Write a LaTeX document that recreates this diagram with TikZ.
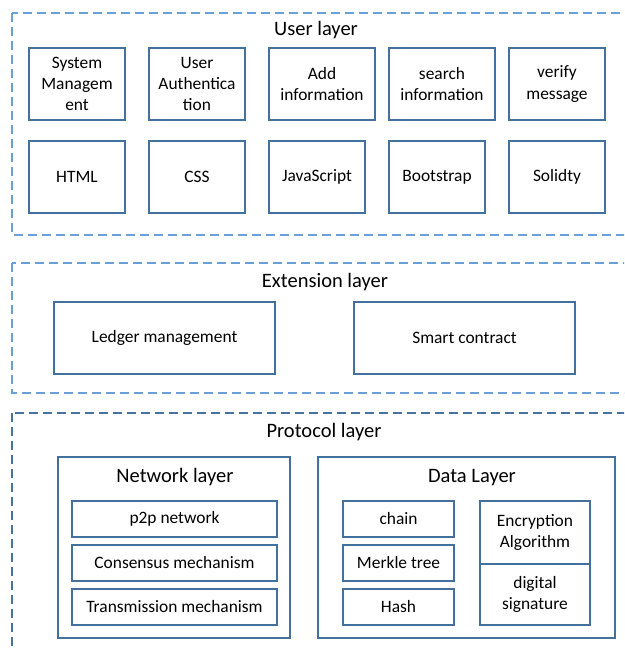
\documentclass[tikz,border=0pt]{standalone}
\usepackage{fontspec}
\setmainfont{Carlito}
\definecolor{dashblue}{RGB}{105,160,215}
\definecolor{darkdash}{RGB}{70,115,160}
\definecolor{boxblue}{RGB}{65,113,156}
\newcommand{\boxfont}{\fontsize{17.4}{21.3}\selectfont}
\newcommand{\titlefont}{\fontsize{20.5}{24}\selectfont}

\begin{document}
\begin{tikzpicture}[x=1pt,y=-1pt,
  layerline/.style={dashblue,line width=1.5pt,dash pattern=on 9pt off 5pt},
  cell/.style={draw=boxblue,line width=1.2pt,align=center,font=\boxfont,inner sep=0pt,minimum height=72pt},
  heading/.style={font=\titlefont,inner sep=0pt,anchor=base}]
\useasboundingbox (0,0) rectangle (624,650);
\clip (0,0) rectangle (624,650);

\draw[layerline] (12,13) rectangle (640,235);
\node[heading] (usertitle) at (316,36) {User layer};
\node[cell,minimum width=96pt] (sysman) at (77,84) {System\\Managem\\ent};
\node[cell,minimum width=96pt] (userauth) at (197,84) {User\\Authentica\\tion};
\node[cell,minimum width=106pt] (addinfo) at (322,84) {Add\\information};
\node[cell,minimum width=106pt] (searchinfo) at (442,84) {search\\information};
\node[cell,minimum width=96pt] (verifymsg) at (557,84) {verify\\message};
\node[cell,minimum width=96pt] (html) at (77,177) {HTML};
\node[cell,minimum width=96pt] (css) at (197,177) {CSS};
\node[cell,minimum width=96pt] (js) at (317,177) {JavaScript};
\node[cell,minimum width=96pt] (bootstrap) at (437,177) {Bootstrap};
\node[cell,minimum width=96pt] (solidty) at (557,177) {Solidty};

\draw[layerline] (12,263) rectangle (640,393);
\node[heading] (exttitle) at (325,287) {Extension layer};
\node[cell,minimum width=221pt] (ledger) at (164.5,338) {Ledger management};
\node[cell,minimum width=221pt] (contract) at (464.5,338) {Smart contract};

\draw[layerline,darkdash] (12,413) rectangle (640,680);
\node[heading] (prottitle) at (324,437) {Protocol layer};
\node[cell,minimum width=232pt,minimum height=181pt] (netlayer) at (174,547.5) {};
\node[heading] (nettitle) at (175,482) {Network layer};
\node[cell,minimum width=205pt,minimum height=36pt] (p2p) at (174.5,519) {p2p network};
\node[cell,minimum width=205pt,minimum height=36pt] (consensus) at (174.5,563) {Consensus mechanism};
\node[cell,minimum width=205pt,minimum height=36pt] (transmit) at (174.5,607) {Transmission mechanism};
\node[cell,minimum width=297pt,minimum height=181pt] (datalayer) at (466.5,547.5) {};
\node[heading] (datatitle) at (472,482) {Data Layer};
\node[cell,minimum width=111pt,minimum height=36pt] (chain) at (398.5,519) {chain};
\node[cell,minimum width=111pt,minimum height=36pt] (merkle) at (398.5,563) {Merkle tree};
\node[cell,minimum width=111pt,minimum height=36pt] (hash) at (398.5,607) {Hash};
\node[cell,minimum width=110pt,minimum height=63pt] (encrypt) at (535,532.5) {Encryption\\Algorithm};
\node[cell,minimum width=110pt,minimum height=61pt] (signature) at (535,594.5) {digital\\signature};
\end{tikzpicture}
\end{document}
